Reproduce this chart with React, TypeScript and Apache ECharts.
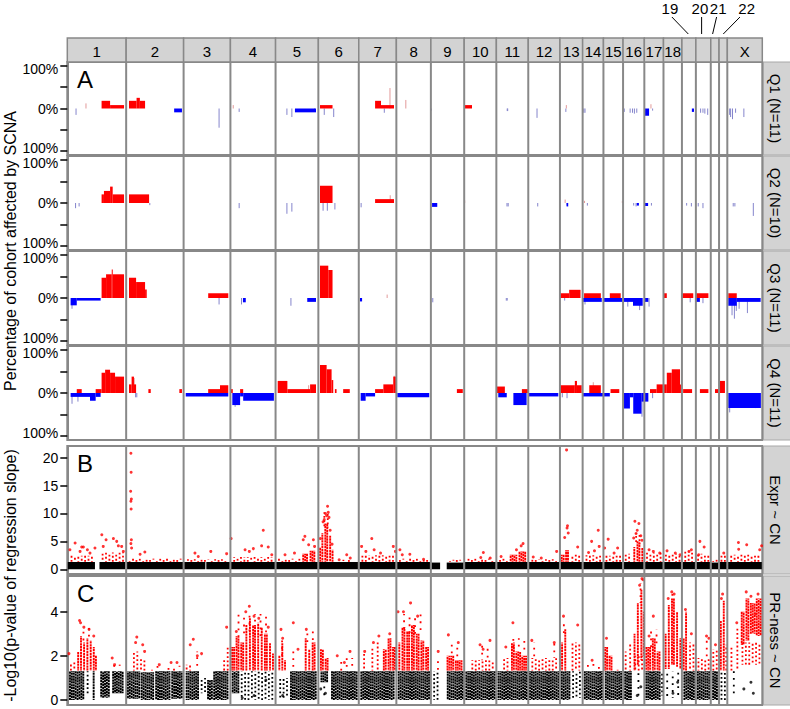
import React, { useEffect, useRef } from "react";
import * as echarts from "echarts";

// ---------- genome layout ----------
const CHROMS = ["1","2","3","4","5","6","7","8","9","10","11","12","13","14","15","16","17","18","19","20","21","22","X"];
const CHROM_LEN = [249,243,198,191,181,171,159,146,141,136,135,134,96,88,83,90,81,78,59,63,35,35,148];

const ROW_NAMES = ["Q1 (N=11)", "Q2 (N=10)", "Q3 (N=11)", "Q4 (N=11)"];
const PANEL_B_NAME = "Expr ~ CN";
const PANEL_C_NAME = "PR-ness ~ CN";
const TITLE_A = "Percentage of cohort affected by SCNA";
const TITLE_BC = "-Log10(p-value of regression slope)";

const A_TICKS = [-100, -50, 0, 50, 100];
const A_LABELS = [-100, 0, 100];
const B_TICKS = [0, 5, 10, 15, 20];
const C_TICKS = [0, 2, 4];

// ---------- panel A: SCNA frequency segments [chrom, startMb, endMb, percent] ----------
const Q1_SCNA = [
  ["1",145,181,18],["1",181,240,8],
  ["2",12,44,18],["2",44,58,25],["2",58,80,18],["2",203,236,-9],
  ["5",82,171,-9],
  ["6",7,60,8],
  ["7",69,94,18],["7",94,149,8],
  ["10",3,33,8],
  ["17",0,20,-17],
  ["19",42,51,-8],
];
const Q1_SPIKES = [
  ["1",37,-15],["1",79,12],["3",150,-45],["4",12,8],["4",37,-8],["5",48,-15],["5",69,-20],["5",165,-8],
  ["6",25,-15],["6",65,-20],["7",108,-10],["7",132,48],["8",40,20],["9",2,-5],["11",46,-6],["11",48,-6],
  ["12",37,-22],["13",25,-8],["13",27,8],["14",5,-10],["14",10,-10],["16",5,-8],["16",30,-10],["16",40,-10],
  ["16",48,-12],["16",58,-10],["17",28,10],["17",35,-5],["20",20,-10],["20",30,-10],["20",38,-12],["20",50,-15],
  ["X",10,-15],["X",14,-20],["X",22,-25],["X",35,-10],["X",70,-20],
];
const Q2_SCNA = [
  ["1",145,155,20],["1",155,181,28],["1",181,192,38],["1",192,240,20],
  ["2",12,97,20],
  ["6",7,60,40],
  ["7",69,149,9],
  ["9",5,27,-9],
  ["13",28,35,-8],
  ["16",58,67,-6],["17",3,16,-7],
];
const Q2_SPIKES = [
  ["1",35,-12],["1",50,-8],["2",100,-5],["4",37,-12],["5",48,-25],["5",69,-20],["6",20,-18],["6",38,-18],
  ["6",70,-15],["7",10,-10],["7",133,18],["10",2,6],["11",45,-8],["11",50,-8],["12",40,-8],["13",22,8],
  ["13",30,-6],["14",8,5],["14",20,-6],["15",80,5],["16",45,-6],["16",55,-8],["17",30,-6],["18",77,6],
  ["19",20,-6],["19",40,-8],["20",10,-8],["20",30,-12],["X",25,-8],["X",32,-8],["X",110,-30],
];
const Q3_SCNA = [
  ["1",14,40,-17],["1",40,141,-6],["1",145,164,47],["1",164,188,55],["1",188,192,66],["1",192,240,55],
  ["2",12,42,47],["2",42,80,37],["2",80,87,20],
  ["3",104,189,11],
  ["4",53,65,-10],
  ["5",134,171,-9],
  ["6",7,42,75],["6",42,60,65],
  ["7",5,14,-8],
  ["13",0,39,11],["13",39,87,19],
  ["14",6,77,11],["14",0,81,-9],
  ["15",27,73,11],["15",0,81,-9],
  ["16",0,42,-9],["16",42,83,-18],
  ["17",0,17,-9],
  ["18",0,14,11],
  ["19",0,48,11],
  ["20",0,53,11],["20",0,17,-9],
  ["X",4,40,11],["X",4,40,-18],["X",40,141,-9],
];
const Q3_SPIKES = [
  ["1",20,-25],["2",2,18],["3",150,-15],["4",47,-15],["5",65,-18],["7",120,8],["9",8,-10],["11",42,-6],
  ["11",46,-6],["13",20,-6],["14",10,-15],["16",20,-20],["16",70,-28],["17",20,-20],["19",35,-10],["20",30,-12],
  ["X",20,-40],["X",30,-48],["X",38,-30],["X",50,-25],["X",85,-35],
];
const Q4_SCNA = [
  ["1",14,96,-9],["1",96,120,-18],["1",120,141,-9],["1",40,61,9],["1",120,145,9],["1",145,160,47],
  ["1",160,181,54],["1",181,202,47],["1",202,240,38],
  ["2",12,23,20],["2",23,33,38],["2",33,42,20],["2",94,104,9],["2",225,236,9],
  ["3",9,189,-8],["3",104,154,9],["3",154,189,18],
  ["4",8,41,-28],["4",41,54,-8],["4",54,184,-18],["4",2,10,9],["4",41,54,9],
  ["5",9,50,28],["5",50,146,9],["5",146,171,20],
  ["6",7,35,65],["6",35,56,55],["6",56,63,30],["6",70,77,9],["6",105,133,9],
  ["7",8,29,-18],["7",29,69,-8],["7",69,104,9],["7",104,146,20],["7",146,159,38],
  ["8",4,139,-10],
  ["9",110,135,9],
  ["11",0,36,15],["11",8,44,-10],["11",72,128,-28],["11",108,134,9],
  ["12",0,127,-8],
  ["13",0,63,18],["13",63,72,28],["13",72,92,18],
  ["14",28,77,18],["14",0,88,-8],
  ["15",0,27,-8],["15",30,67,9],
  ["16",0,29,-36],["16",29,43,-10],["16",43,78,-48],["16",78,90,-20],
  ["17",0,17,-20],["17",24,52,9],["17",52,81,20],
  ["18",0,14,20],["18",14,35,47],["18",35,70,55],["18",70,78,20],
  ["19",5,43,9],
  ["20",17,53,9],
  ["21",18,35,9],
  ["22",4,25,28],
  ["X",4,142,-35],
];
const Q4_SPIKES = [
  ["1",20,-25],["1",45,-20],["2",34,35],["2",40,-10],["2",45,-10],["4",20,-32],["5",30,25],["5",140,18],
  ["7",150,40],["11",10,12],["13",10,-10],["13",30,-12],["14",45,25],["16",80,-55],["17",35,-12],
  ["X",10,-45],["X",35,-30],["X",60,-30],["X",120,-35],
];

// ---------- panel B: Expr ~ CN ----------
// dense non-significant band [chrom, start, end, top]
const B_BLACK_BAND = [
  ["1",2,117,1.3],["1",136,246,1.3],["2",2,241,1.3],["3",2,92,1.3],["3",96,196,1.3],["4",2,189,1.3],
  ["5",2,179,1.3],["6",2,169,1.3],["7",2,157,1.3],["8",2,144,1.3],["9",2,39,1.2],["9",67,139,1.2],
  ["10",2,134,1.3],["11",2,133,1.3],["12",2,132,1.3],["13",2,94,1.3],["14",2,86,1.3],["15",2,81,1.3],
  ["16",1,88,1.3],["17",1,79,1.3],["18",1,76,1.3],["19",1,58,1.3],["20",1,62,1.3],["21",2,34,1.2],
  ["22",1,34,1.3],["X",2,146,1.3],
];
// clouds of significant genes [chrom, start, end, low, high, density 1=dense 2=sparse 3=very sparse]
const B_RED_CLOUDS = [
  ["1",5,117,1.33,2.4,2],["1",140,245,1.33,3.0,2],
  ["2",5,240,1.33,1.9,2],
  ["3",5,190,1.33,1.8,2],
  ["4",5,185,1.33,2.2,2],
  ["5",5,110,1.33,1.9,2],["5",110,140,1.33,2.8,1],["5",140,172,1.33,3.3,1],
  ["6",3,12,1.33,4.0,1],["6",12,22,1.33,6.5,1],["6",22,45,1.33,8.2,1],["6",45,55,1.33,6.0,1],["6",55,65,1.33,3.5,1],
  ["6",15,50,7.5,10.2,2],["6",65,170,1.33,1.7,3],
  ["7",5,155,1.33,2.5,2],
  ["8",5,140,1.33,1.9,2],
  ["9",5,35,1.33,1.5,3],["9",70,135,1.33,1.7,2],
  ["10",5,132,1.33,1.9,2],
  ["11",5,55,1.33,1.9,2],["11",55,90,1.33,2.6,1],["11",90,130,1.33,3.2,1],
  ["12",5,130,1.33,1.8,2],
  ["13",3,20,1.33,2.6,1],["13",20,40,1.33,3.4,1],["13",40,94,1.33,2.6,2],
  ["14",3,87,1.33,2.5,2],
  ["15",3,80,1.33,2.4,2],
  ["16",2,35,1.33,2.8,2],["16",40,55,1.33,4.0,1],["16",55,75,1.33,5.0,1],["16",75,88,1.33,3.8,1],["16",45,80,4.5,6.5,2],
  ["17",2,78,1.33,3.0,2],
  ["18",2,76,1.33,2.8,2],
  ["19",2,55,1.33,3.2,2],
  ["20",2,60,1.33,2.8,2],
  ["21",2,33,1.33,1.8,2],
  ["22",2,33,1.33,2.4,2],
  ["X",3,145,1.33,2.6,2],
];
// individual significant genes [chrom, posMb, -log10 p]
const B_RED_POINTS = [
  ["1",11,3.5],["1",33,4.7],["1",54,3.2],["1",61,4.0],["1",68,4.0],["1",85,3.5],["1",96,2.9],["1",117,3.8],
  ["1",146,6.2],["1",152,4.1],["1",164,5.3],["1",195,5.5],["1",209,5.0],["1",216,4.2],["1",230,4.1],["1",237,3.2],
  ["2",20,20.8],["2",21,17.4],["2",19,14.0],["2",22,12.6],["2",20,12.2],["2",21,10.8],["2",22,5.3],["2",20,4.6],
  ["2",23,3.8],["2",59,2.7],["2",79,3.1],
  ["3",48,2.9],["3",62,2.3],["3",115,3.2],["3",182,2.8],
  ["4",3,5.5],["4",62,3.5],["4",97,3.7],["4",80,3.2],["4",139,7.0],["4",132,4.2],["4",160,4.0],["4",175,2.6],
  ["5",40,2.6],["5",80,2.9],["5",117,5.3],["5",124,5.9],["5",140,4.4],["5",160,5.3],["5",165,4.1],
  ["6",8,5.5],["6",20,8.5],["6",30,10.0],["6",39,11.3],["6",45,9.3],["6",50,7.0],["6",58,4.5],["6",35,9.6],
  ["6",25,8.9],["6",42,10.2],["6",88,1.7],["6",120,2.6],["6",135,2.0],
  ["7",12,4.1],["7",30,3.2],["7",55,5.5],["7",65,3.5],["7",92,2.9],["7",146,4.1],["7",155,3.2],
  ["8",15,3.5],["8",25,2.6],["8",57,2.7],["8",115,1.8],
  ["10",81,3.0],["10",70,2.1],["10",110,2.0],
  ["11",20,2.3],["11",113,4.6],["11",105,4.2],["11",85,3.5],
  ["12",21,2.2],["12",55,2.0],["12",120,3.2],
  ["13",28,21.4],["13",32,7.8],["13",30,7.4],["13",20,5.7],["13",35,6.5],["13",75,4.0],
  ["14",38,5.0],["14",25,3.0],["14",66,7.0],["14",70,4.1],["14",50,3.3],
  ["15",20,5.4],["15",5,3.8],["15",60,3.8],["15",45,2.9],
  ["16",50,8.6],["16",67,8.2],["16",60,7.0],["16",55,6.4],["16",75,6.0],["16",45,5.6],["16",80,5.2],
  ["17",20,3.5],["17",38,3.2],["17",65,2.9],
  ["18",15,3.3],["18",50,2.9],["18",70,2.6],
  ["19",40,3.5],["19",30,3.2],
  ["20",17,5.0],["20",35,4.0],["20",12,2.6],
  ["22",20,2.9],
  ["X",47,4.8],["X",48,3.6],["X",82,4.4],["X",137,3.5],["X",145,4.2],
];

// ---------- panel C: PR-ness ~ CN ----------
const C_BLACK_CLOUDS = [
  ["1",4,75,0,1.3,1],["1",75,97,0.2,1.3,2],["1",106,117,0,1.3,1],["1",138,181,0.1,1.3,1],["1",188,240,0.3,1.3,1],
  ["2",3,60,0.05,1.3,1],["2",60,120,0,1.25,1],["2",120,190,0,1.3,1],["2",190,240,0.05,1.3,1],
  ["3",5,69,0,1.3,1],["3",69,98,0.3,1.0,2],["3",98,125,0,0.9,1],["3",125,190,0,1.3,1],
  ["4",3,40,0.3,1.3,1],["4",40,185,0,1.3,2],
  ["5",8,60,0.1,1.0,2],["5",60,175,0,1.3,1],
  ["6",5,45,0.8,1.3,1],["6",5,45,0,0.8,3],["6",50,170,0,1.3,1],
  ["7",3,155,0,1.3,1],
  ["8",3,145,0,1.3,1],
  ["9",3,39,0,1.3,2],["9",67,140,0,1.3,1],
  ["10",3,135,0,1.3,1],
  ["11",3,135,0,1.3,1],
  ["12",3,132,0,1.3,1],
  ["13",3,45,0,1.3,1],["13",45,95,0.1,1.3,2],
  ["14",3,88,0,1.3,1],
  ["15",5,80,0,1.3,1],
  ["16",2,40,0,1.3,1],["16",42,88,0.2,1.3,3],
  ["17",3,70,0,1.3,1],["17",70,80,0.2,1.3,2],
  ["18",3,75,0.1,1.3,3],
  ["19",3,58,0,1.3,1],
  ["20",3,62,0,1.3,1],
  ["21",3,33,0,1.3,1],
  ["22",2,33,0,1.3,2],
  ["X",5,50,0.3,1.3,3],
];
const C_RED_CLOUDS = [
  ["1",5,40,1.33,1.7,2],
  ["1",40,52,1.33,2.2,1],["1",52,64,1.33,2.9,1],["1",64,78,1.33,2.6,1],["1",78,92,1.33,2.8,1],
  ["1",92,106,1.33,2.7,1],["1",106,118,1.33,2.4,1],["1",118,124,1.33,2.0,1],["1",48,112,2.7,3.3,3],
  ["1",185,235,1.33,1.6,3],
  ["2",25,55,1.33,2.2,2],["2",55,85,1.33,1.9,2],["2",95,240,1.33,1.55,3],
  ["3",5,35,1.33,1.6,2],["3",35,80,1.33,2.2,3],["3",165,178,1.33,1.8,2],["3",178,195,1.33,2.4,2],
  ["4",3,20,1.33,2.4,1],["4",20,40,1.33,2.9,1],["4",40,60,1.33,2.6,1],["4",60,75,1.33,3.4,1],
  ["4",75,90,1.33,3.7,1],["4",90,110,1.33,3.4,1],["4",110,125,1.33,3.5,1],["4",125,140,1.33,3.3,1],
  ["4",140,160,1.33,3.0,1],["4",160,175,1.33,2.6,1],["4",175,185,1.33,2.1,1],["4",15,170,2.9,3.9,3],
  ["5",10,22,1.33,2.0,1],["5",22,35,1.33,2.6,1],["5",35,45,1.33,1.8,1],["5",10,45,2.0,2.9,3],["5",65,85,1.33,2.4,3],
  ["5",120,135,1.33,2.8,1],["5",135,150,1.33,2.3,1],["5",150,172,1.33,2.6,1],["5",120,172,2.5,3.1,3],
  ["6",5,25,1.33,2.3,1],["6",25,45,1.33,1.9,1],["6",80,160,1.33,1.9,3],
  ["7",10,35,1.33,2.1,2],["7",45,70,1.33,2.4,2],["7",70,90,1.33,2.7,2],["7",100,120,1.33,2.3,1],
  ["7",120,140,1.33,2.8,1],["7",140,158,1.33,2.4,1],
  ["8",5,20,1.33,2.6,1],["8",20,40,1.33,3.3,1],["8",40,60,1.33,3.1,1],["8",60,80,1.33,3.4,1],
  ["8",80,100,1.33,3.0,1],["8",100,120,1.33,2.7,1],["8",120,140,1.33,2.4,1],["8",15,120,3.0,3.9,3],
  ["9",20,40,1.33,1.9,3],["9",65,100,1.33,2.0,1],["9",100,135,1.33,1.8,1],["9",70,130,1.9,2.5,3],
  ["10",20,135,1.33,1.8,2],["10",60,115,1.8,2.5,3],
  ["11",20,60,1.33,1.9,2],["11",60,80,1.33,2.6,1],["11",80,105,1.33,2.2,1],["11",105,130,1.33,2.0,1],["11",60,130,2.2,2.8,3],
  ["12",5,130,1.33,1.9,2],["12",10,40,1.9,2.6,3],["12",95,125,1.9,2.6,3],
  ["13",3,15,1.33,2.6,1],["13",15,30,1.33,3.2,1],["13",3,30,3.0,3.6,3],["13",40,95,1.33,2.6,2],
  ["14",3,88,1.33,1.7,3],
  ["15",3,20,1.33,2.4,1],["15",20,40,1.33,2.0,1],["15",40,80,1.33,1.6,3],
  ["16",2,20,1.33,2.2,2],["16",20,40,1.33,2.6,2],["16",42,55,1.33,3.0,1],["16",55,70,1.6,4.4,1],
  ["16",70,85,1.8,5.0,1],["16",85,90,2.0,4.0,1],["16",42,90,1.33,2.0,2],["16",60,88,4.4,5.3,3],
  ["17",3,30,1.33,2.4,1],["17",30,50,1.33,2.8,1],["17",50,70,1.33,2.2,1],["17",10,70,2.4,3.2,3],
  ["18",3,15,1.4,3.0,1],["18",15,30,1.4,4.3,1],["18",30,50,1.6,4.6,1],["18",50,65,1.5,4.0,1],
  ["18",65,78,1.4,2.8,1],["18",15,60,4.2,4.9,3],
  ["19",5,10,1.33,2.8,1],["19",10,25,1.33,4.0,1],["19",25,58,1.33,2.6,2],
  ["20",3,62,1.33,1.9,2],["20",30,62,1.9,2.8,3],
  ["21",3,33,1.33,2.3,2],
  ["22",3,12,1.33,3.6,1],["22",12,28,1.33,4.5,1],["22",28,33,1.33,2.5,2],
  ["X",5,30,1.33,2.4,2],["X",30,55,1.33,3.3,2],["X",55,75,2.5,4.0,1],["X",75,95,2.7,4.6,1],
  ["X",95,120,3.0,4.4,1],["X",120,145,2.9,4.6,1],["X",55,145,1.6,2.6,2],
];
const C_RED_POINTS = [
  ["1",7,2.1],["1",52,3.6],["1",56,3.5],["1",70,3.3],["1",92,3.2],["1",112,2.9],["1",190,1.9],["1",200,1.6],
  ["2",45,2.85],["2",40,2.6],["2",70,2.5],["2",78,2.2],["2",140,1.6],["2",190,1.7],["2",215,1.7],
  ["3",41,2.75],["3",28,2.5],["3",58,2.0],["3",76,2.1],["3",182,3.3],
  ["4",80,4.25],["4",65,4.0],["4",25,3.1],["4",100,3.8],["4",120,3.7],["4",160,3.3],
  ["5",23,3.2],["5",30,2.8],["5",75,3.5],["5",130,3.2],["5",95,2.3],
  ["6",80,2.0],["6",134,2.2],["6",110,1.7],
  ["7",25,2.2],["7",62,2.6],["7",85,2.9],["7",131,3.0],
  ["8",7,4.0],["8",60,4.4],["8",30,4.0],["8",90,3.8],
  ["9",31,2.2],["9",74,2.95],["9",116,2.6],
  ["10",67,2.5],["10",109,2.7],["10",80,2.3],
  ["11",70,3.5],["11",40,2.4],
  ["12",15,2.7],["12",110,2.6],
  ["13",15,3.8],["13",75,3.4],
  ["14",40,1.8],
  ["15",13,2.8],
  ["16",80,5.5],["16",85,5.45],["16",70,5.2],
  ["17",38,3.8],["17",20,2.9],
  ["18",35,4.9],["18",45,4.8],["18",20,4.6],
  ["19",15,4.1],["19",40,3.0],
  ["20",45,2.9],["20",55,2.8],
  ["21",20,2.5],
  ["22",15,4.8],["22",10,4.6],
  ["X",80,4.9],["X",100,4.7],["X",130,4.8],["X",40,3.5],["X",120,3.9],
];
const C_BLACK_POINTS = [
  ["X",70,0.5],["X",110,0.3],["X",100,0.8],["16",60,0.2],["16",75,0.6],["18",40,0.3],["18",60,0.8],
  ["4",50,0.1],["4",100,0.2],["4",150,0.9],["6",30,0.3],["6",10,0.5],["5",30,0.2],
];

// ---------- styling ----------
const FONT = '"Liberation Sans", Arial, Helvetica, sans-serif';
const RED = "#ff0000";
const BLUE = "#0000ff";
const GRAY = "#888888";
const STRIP = "#d3d3d3";
const PLOT_LEFT = 67.3;
const PLOT_WIDTH = 695;
const GRID_BOXES = [
  { top: 38, height: 24 },   // header
  { top: 62, height: 93 },   // Q1
  { top: 156, height: 94 },  // Q2
  { top: 251, height: 94 },  // Q3
  { top: 346, height: 94 },  // Q4
  { top: 446, height: 128 }, // B
  { top: 576, height: 129 }, // C
];
const DENSITY: any = {
  1: { step: 1.9, dash: [2.3, 0.6], width: 1.9 },
  2: { step: 3.4, dash: [1.8, 2.4], width: 1.8 },
  3: { step: 5.5, dash: [1.8, 5], width: 1.8 },
};
const DASH_SHIFT = [0, 0.5, 0.25, 0.75, 0.1, 0.6, 0.35, 0.85];
// callout label offsets for the small chromosomes (px relative to box centre)
const CALLOUT: any = {
  "19": { t: -19, a: -17, b: -0.6 },
  "20": { t: -3.4, a: -1.7, b: -1.7 },
  "21": { t: 3.3, a: 1.7, b: -2.3 },
  "22": { t: 23.5, a: 16.8, b: 0.1 },
};

const OFFSET: number[] = [];
{
  let acc = 0;
  for (const l of CHROM_LEN) { OFFSET.push(acc); acc += l; }
}
const GENOME = CHROM_LEN.reduce((a, b) => a + b, 0);
const pos = (c: string, x: number) => OFFSET[CHROMS.indexOf(c)] + x;

function segRender(params: any, api: any) {
  const v = api.value(2);
  const a = api.coord([api.value(0), v]);
  const b = api.coord([api.value(1), 0]);
  return {
    type: "rect",
    shape: { x: a[0], y: Math.min(a[1], b[1]), width: Math.max(1, b[0] - a[0]), height: Math.abs(b[1] - a[1]) },
    style: { fill: v > 0 ? RED : BLUE },
  };
}
function spikeRender(params: any, api: any) {
  const v = api.value(1);
  const a = api.coord([api.value(0), v]);
  const b = api.coord([api.value(0), 0]);
  return {
    type: "line",
    shape: { x1: a[0], y1: a[1], x2: b[0], y2: b[1] },
    style: { stroke: v > 0 ? "#e29a9a" : "#8585cc", lineWidth: 1 },
  };
}
function bandRender(params: any, api: any) {
  const a = api.coord([api.value(0), api.value(2)]);
  const b = api.coord([api.value(1), 0]);
  return { type: "rect", shape: { x: a[0], y: a[1], width: b[0] - a[0], height: b[1] - a[1] }, style: { fill: "#000" } };
}
function cloudRender(color: string) {
  return (params: any, api: any) => {
    const lo = api.coord([api.value(0), api.value(2)]);
    const hi = api.coord([api.value(1), api.value(3)]);
    const d = DENSITY[api.value(4)] || DENSITY[1];
    const x0 = lo[0], x1 = hi[0], yb = lo[1], yt = hi[1];
    const period = d.dash[0] + d.dash[1];
    const n = Math.max(1, Math.floor((x1 - x0) / d.step));
    const start = x0 + (x1 - x0 - n * d.step) / 2 + d.step / 2;
    const children: any[] = [];
    for (let k = 0; k < n; k++) {
      const x = start + k * d.step;
      children.push({
        type: "line",
        shape: { x1: x, y1: yb, x2: x, y2: yt },
        style: { stroke: color, lineWidth: d.width, lineDash: d.dash, lineDashOffset: DASH_SHIFT[(k + params.dataIndex) % 8] * period },
        silent: true,
      });
    }
    return { type: "group", children };
  };
}

function buildOption() {
  const grid = GRID_BOXES.map((g, i) => ({
    left: PLOT_LEFT, width: PLOT_WIDTH, top: g.top, height: g.height,
    show: i > 0, borderColor: GRAY, borderWidth: 2, backgroundColor: "#fff",
  }));
  const xAxis = GRID_BOXES.map((g, i) => ({ gridIndex: i, type: "value", min: 0, max: GENOME, show: false }));
  const baseLabel = { color: "#000", fontSize: 14, fontFamily: FONT };
  const styledY = (gridIndex: number, min: number, max: number, ticks: number[], labels: number[], fmt: any, rich?: any) => ({
    gridIndex, type: "value", min, max,
    axisLine: { show: true, lineStyle: { color: GRAY, width: 2 } },
    splitLine: { show: false },
    axisTick: { show: true, customValues: ticks, length: 7, inside: false, lineStyle: { color: "#000", width: 1.5 } },
    axisLabel: { show: true, customValues: labels, formatter: fmt, ...baseLabel, margin: 9, rich },
  });
  // the two 100% labels of neighbouring rows sit close together; nudge them apart slightly
  const pctFmt = (v: number) => (v > 0 ? "{t|100%}" : v < 0 ? "{b|100%}" : "{m|0%}");
  const pctRich = {
    t: { ...baseLabel, padding: [6, 0, 0, 0] },
    b: { ...baseLabel, padding: [0, 0, 6, 0] },
    m: { ...baseLabel },
  };
  const numFmt = (v: number) => String(v);
  const yAxis: any[] = [
    { gridIndex: 0, type: "value", min: 0, max: 1, show: false },
    styledY(1, -109, 109, A_TICKS, A_LABELS, pctFmt, pctRich),
    styledY(2, -109, 109, A_TICKS, A_LABELS, pctFmt, pctRich),
    styledY(3, -109, 109, A_TICKS, A_LABELS, pctFmt, pctRich),
    styledY(4, -109, 109, A_TICKS, A_LABELS, pctFmt, pctRich),
    styledY(5, -0.85, 22.1, B_TICKS, B_TICKS, numFmt),
    styledY(6, -0.23, 5.62, C_TICKS, C_TICKS, numFmt),
  ];

  const series: any[] = [];
  // header strip
  series.push({
    type: "custom", xAxisIndex: 0, yAxisIndex: 0, silent: true, z: 5,
    data: CHROMS.map((c, i) => [OFFSET[i], OFFSET[i] + CHROM_LEN[i], i]),
    encode: { x: [0, 1], y: 2 },
    renderItem: (params: any, api: any) => {
      const i = api.value(2);
      const cs = params.coordSys;
      const s = api.coord([api.value(0), 0])[0];
      const e = api.coord([api.value(1), 0])[0];
      const cx = (s + e) / 2;
      const children: any[] = [
        { type: "rect", shape: { x: s, y: cs.y, width: e - s, height: cs.height }, style: { fill: STRIP, stroke: GRAY, lineWidth: 1.5 } },
      ];
      const label = CHROMS[i];
      const call = CALLOUT[label];
      const ts = { font: "15px " + FONT, fill: "#000", textAlign: "center", textVerticalAlign: "middle", align: "center", verticalAlign: "middle" };
      if (!call) {
        children.push({ type: "text", x: cx, y: cs.y + cs.height / 2 + 1, style: { ...ts, text: label } });
      } else {
        children.push({ type: "text", x: cx + call.t, y: cs.y - 30, style: { ...ts, text: label } });
        children.push({ type: "line", shape: { x1: cx + call.a, y1: cs.y - 21, x2: cx + call.b, y2: cs.y - 4 }, style: { stroke: "#000", lineWidth: 1 } });
      }
      return { type: "group", children };
    },
  });

  // panel A rows
  const rows = [[Q1_SCNA, Q1_SPIKES], [Q2_SCNA, Q2_SPIKES], [Q3_SCNA, Q3_SPIKES], [Q4_SCNA, Q4_SPIKES]];
  rows.forEach(([segs, spikes]: any, r) => {
    const gi = r + 1;
    series.push({
      type: "custom", xAxisIndex: gi, yAxisIndex: gi, silent: true, z: 2,
      data: spikes.map(([c, x, v]: any) => [pos(c, x), v]),
      encode: { x: 0, y: 1 }, renderItem: spikeRender,
    });
    series.push({
      type: "custom", xAxisIndex: gi, yAxisIndex: gi, silent: true, z: 3,
      data: segs.map(([c, s, e, v]: any) => [pos(c, s), pos(c, e), v]),
      encode: { x: [0, 1], y: 2 }, renderItem: segRender,
    });
  });

  // panel B
  series.push({
    type: "custom", xAxisIndex: 5, yAxisIndex: 5, silent: true, z: 2,
    data: B_BLACK_BAND.map(([c, s, e, t]: any) => [pos(c, s), pos(c, e), t]),
    encode: { x: [0, 1], y: 2 }, renderItem: bandRender,
  });
  series.push({
    type: "custom", xAxisIndex: 5, yAxisIndex: 5, silent: true, z: 3,
    data: B_RED_CLOUDS.map(([c, s, e, lo, hi, d]: any) => [pos(c, s), pos(c, e), lo, hi, d]),
    encode: { x: [0, 1], y: [2, 3] }, renderItem: cloudRender(RED),
  });
  series.push({
    type: "scatter", xAxisIndex: 5, yAxisIndex: 5, silent: true, z: 4,
    symbol: "circle", symbolSize: 3, itemStyle: { color: RED },
    data: B_RED_POINTS.map(([c, x, v]: any) => [pos(c, x), v]),
  });

  // panel C
  series.push({
    type: "custom", xAxisIndex: 6, yAxisIndex: 6, silent: true, z: 2,
    data: C_BLACK_CLOUDS.map(([c, s, e, lo, hi, d]: any) => [pos(c, s), pos(c, e), lo, hi, d]),
    encode: { x: [0, 1], y: [2, 3] }, renderItem: cloudRender("#000"),
  });
  series.push({
    type: "scatter", xAxisIndex: 6, yAxisIndex: 6, silent: true, z: 3,
    symbol: "circle", symbolSize: 3, itemStyle: { color: "#000" },
    data: C_BLACK_POINTS.map(([c, x, v]: any) => [pos(c, x), v]),
  });
  series.push({
    type: "custom", xAxisIndex: 6, yAxisIndex: 6, silent: true, z: 3,
    data: C_RED_CLOUDS.map(([c, s, e, lo, hi, d]: any) => [pos(c, s), pos(c, e), lo, hi, d]),
    encode: { x: [0, 1], y: [2, 3] }, renderItem: cloudRender(RED),
  });
  series.push({
    type: "scatter", xAxisIndex: 6, yAxisIndex: 6, silent: true, z: 4,
    symbol: "circle", symbolSize: 3, itemStyle: { color: RED },
    data: C_RED_POINTS.map(([c, x, v]: any) => [pos(c, x), v]),
  });

  // chromosome separators on every panel
  const bounds = OFFSET.slice(1);
  for (let gi = 1; gi <= 6; gi++) {
    series.push({
      type: "custom", xAxisIndex: gi, yAxisIndex: gi, silent: true, z: 10,
      data: bounds.map((b) => [b, 0]),
      encode: { x: 0, y: 1 },
      renderItem: (params: any, api: any) => {
        const x = api.coord([api.value(0), 0])[0];
        const cs = params.coordSys;
        return { type: "line", shape: { x1: x, y1: cs.y, x2: x, y2: cs.y + cs.height }, style: { stroke: GRAY, lineWidth: 2 } };
      },
    });
  }

  const stripNames = [...ROW_NAMES, PANEL_B_NAME, PANEL_C_NAME];
  const graphic: any[] = [];
  const ts = { fill: "#000", textAlign: "center", textVerticalAlign: "middle", align: "center", verticalAlign: "middle" };
  stripNames.forEach((name, k) => {
    const g = GRID_BOXES[k + 1];
    graphic.push({ type: "rect", shape: { x: 763.5, y: g.top, width: 30, height: g.height }, style: { fill: STRIP, stroke: "#a8a8a8", lineWidth: 1 }, silent: true });
    graphic.push({ type: "text", x: 775, y: g.top + g.height / 2, rotation: -Math.PI / 2, silent: true,
      style: { ...ts, text: name, font: "15px " + FONT } });
  });
  const aTop = GRID_BOXES[1].top, aBot = GRID_BOXES[4].top + GRID_BOXES[4].height;
  const bTop = GRID_BOXES[5].top, cBot = GRID_BOXES[6].top + GRID_BOXES[6].height;
  graphic.push({ type: "text", x: 10, y: (aTop + aBot) / 2, rotation: Math.PI / 2, silent: true,
    style: { ...ts, text: TITLE_A, font: "16px " + FONT } });
  graphic.push({ type: "text", x: 10, y: (bTop + cBot) / 2, rotation: Math.PI / 2, silent: true,
    style: { ...ts, text: TITLE_BC, font: "16px " + FONT } });
  const letters = [["A", 1], ["B", 5], ["C", 6]];
  letters.forEach(([t, gi]: any) => {
    graphic.push({ type: "text", x: 77, y: GRID_BOXES[gi].top + 5, silent: true, z: 20,
      style: { text: t, font: "24px " + FONT, fill: "#000", textAlign: "left", textVerticalAlign: "top", align: "left", verticalAlign: "top" } });
  });

  return { animation: false, backgroundColor: "#fff", grid, xAxis, yAxis, series, graphic };
}

export default function App() {
  const ref = useRef<HTMLDivElement>(null);
  useEffect(() => {
    const chart = echarts.init(ref.current!, undefined, { renderer: "svg" });
    chart.setOption(buildOption() as any);
    return () => chart.dispose();
  }, []);
  return <div ref={ref} style={{ position: "fixed", left: 0, top: 0, width: 790, height: 709, background: "#fff" }} />;
}
